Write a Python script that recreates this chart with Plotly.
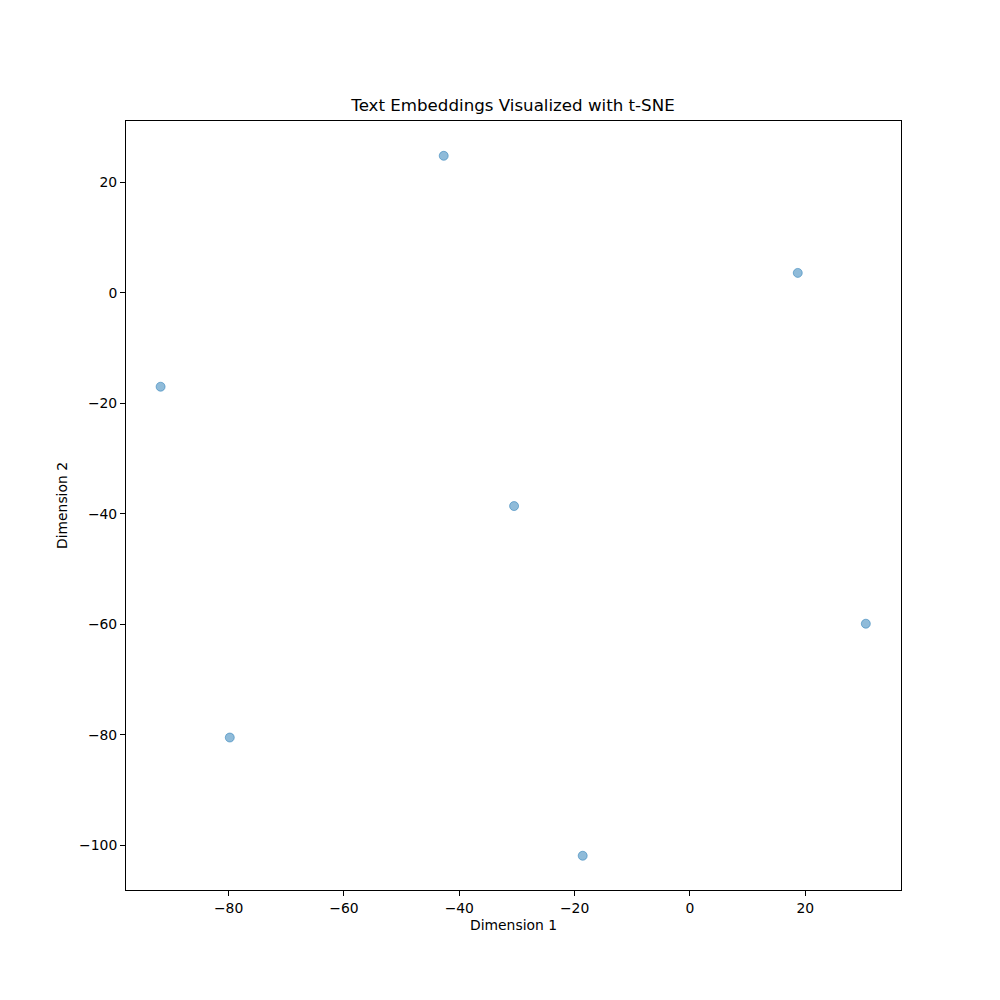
import plotly.graph_objects as go

dim1 = [-42.7, 18.7, -91.8, -30.5, 30.5, -79.8, -18.6]
dim2 = [24.8, 3.6, -17.0, -38.6, -59.9, -80.5, -101.9]

x_ticks = [-80, -60, -40, -20, 0, 20]
y_ticks = [20, 0, -20, -40, -60, -80, -100]

fig = go.Figure(go.Scatter(
    x=dim1, y=dim2, mode="markers",
    marker=dict(size=9, color="rgba(31,119,180,0.5)",
                line=dict(width=1, color="rgba(31,119,180,0.5)")),
))

axis_common = dict(
    showgrid=False, zeroline=False, showline=True, linecolor="black", linewidth=1,
    mirror=True, ticks="outside", ticklen=5, tickwidth=1, tickcolor="black",
    tickfont=dict(family="DejaVu Sans", size=13.9, color="black"),
)

fig.update_layout(
    width=1000, height=1000,
    margin=dict(l=118, r=107, t=113, b=118),
    paper_bgcolor="white", plot_bgcolor="white",
    showlegend=False,
    title=dict(text="Text Embeddings Visualized with t-SNE", x=0.505, xanchor="center",
               y=1 - 97.5/1000, yanchor="middle",
               font=dict(family="DejaVu Sans", size=16.67, color="black")),
    xaxis=dict(range=[-97.8, 36.6], tickvals=x_ticks,
               ticktext=[("\u2212" + str(-v)) if v < 0 else str(v) for v in x_ticks],
               title=dict(text="Dimension 1", standoff=5,
                          font=dict(family="DejaVu Sans", size=13.9, color="black")),
               **axis_common),
    yaxis=dict(range=[-108.1, 31.1], tickvals=y_ticks,
               ticktext=[("\u2212" + str(-v)) if v < 0 else str(v) for v in y_ticks],
               title=dict(text="Dimension 2", standoff=8,
                          font=dict(family="DejaVu Sans", size=13.9, color="black")),
               **axis_common),
)

fig.write_html("out.html")
